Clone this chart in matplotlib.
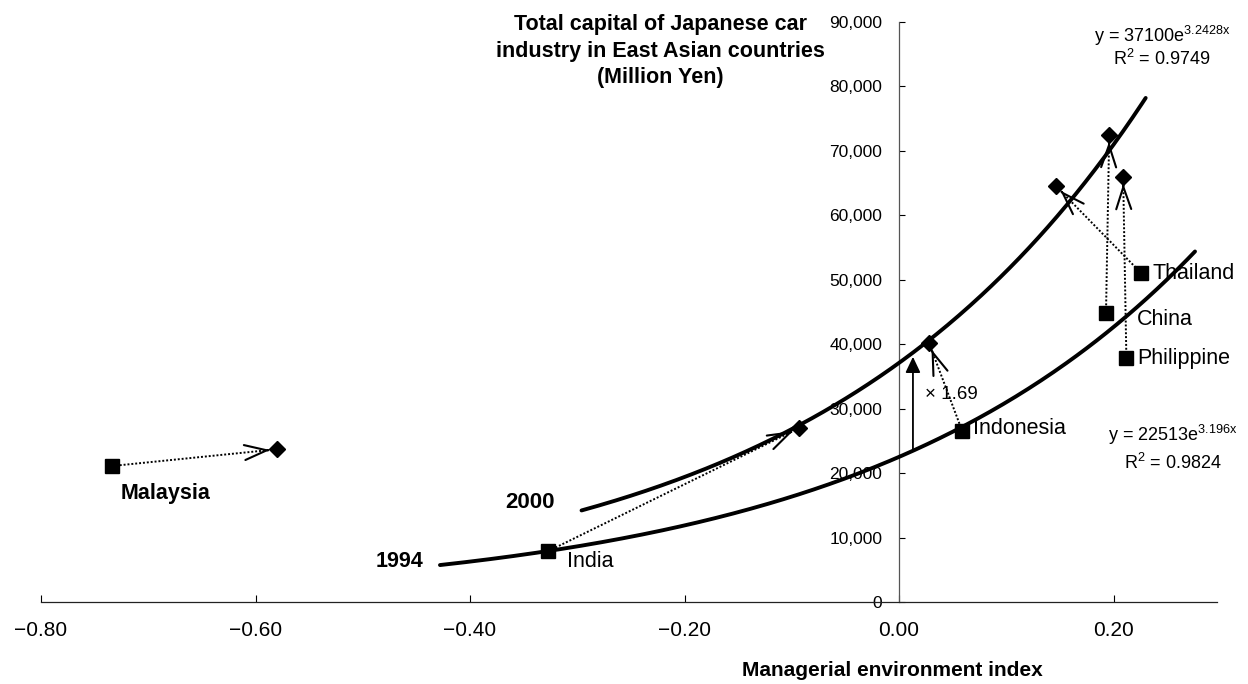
import numpy as np
import matplotlib
matplotlib.use("Agg")
import matplotlib.pyplot as plt

plt.rcParams['font.family'] = ['Liberation Sans', 'DejaVu Sans']
plt.rcParams['mathtext.fontset'] = 'custom'
plt.rcParams['mathtext.rm'] = 'Liberation Sans'
plt.rcParams['mathtext.it'] = 'Liberation Sans:italic'
plt.rcParams['mathtext.bf'] = 'Liberation Sans:bold'

# ---- data -------------------------------------------------------------
countries = ["Malaysia", "India", "Indonesia", "China", "Thailand", "Philippine"]
index_1994 = [-0.734, -0.327, 0.059, 0.193, 0.226, 0.212]
capital_1994 = [21100, 7900, 26500, 44800, 51000, 37900]
index_2000 = [-0.580, -0.093, 0.028, 0.196, 0.146, 0.209]
capital_2000 = [23700, 27000, 40200, 72500, 64600, 66000]

# exponential trend lines y = a * exp(b * x)
fit_1994 = (22513, 3.196)
fit_2000 = (37100, 3.2428)
r2_1994 = 0.9824
r2_2000 = 0.9749
span_1994 = (-0.428, 0.276)
span_2000 = (-0.296, 0.230)

ratio_x = 0.013
ratio_label = "\u00d7 1.69"

x_ticks = [-0.8, -0.6, -0.4, -0.2, 0.0, 0.2]
y_ticks = list(range(0, 90001, 10000))

title_text = "Total capital of Japanese car\nindustry in East Asian countries\n(Million Yen)"
xlabel_text = "Managerial environment index"

# label offsets (points) from each 1994 marker
label_offsets = {
    "Malaysia": (6.5, -24.0),
    "India": (13.5, -11.5),
    "Indonesia": (8.0, -2.2),
    "China": (22.3, -8.6),
    "Thailand": (8.0, -4.3),
    "Philippine": (8.0, -4.3),
}
bold_labels = {"Malaysia"}

# ---- figure -----------------------------------------------------------
W, H = 1248, 684
fig = plt.figure(figsize=(W / 100, H / 100), dpi=100)
ax = fig.add_axes([41 / W, 1 - 602 / H, 1176 / W, 580 / H])
ax.set_xlim(-0.8, 0.2965)
ax.set_ylim(0, 90000)

for s in ("top", "right"):
    ax.spines[s].set_visible(False)
ax.spines["left"].set_position(("data", 0))
ax.spines["left"].set_color("#555555")
ax.spines["left"].set_linewidth(0.9)
ax.spines["bottom"].set_color("#222222")
ax.spines["bottom"].set_linewidth(0.9)

ax.set_xticks(x_ticks, labels=[f"{v:.2f}".replace("-", "\u2212") for v in x_ticks])
ax.set_yticks(y_ticks, labels=[f"{v:,}" for v in y_ticks])
ax.tick_params(axis="x", direction="in", length=5, width=0.8, pad=14, labelsize=15)
ax.tick_params(axis="y", direction="in", length=4, width=0.8, pad=12, labelsize=12.5)


def trend(fit, x):
    a, b = fit
    return a * np.exp(b * np.asarray(x))


# trend curves
for fit, span in ((fit_1994, span_1994), (fit_2000, span_2000)):
    xs = np.linspace(span[0], span[1], 300)
    ax.plot(xs, trend(fit, xs), color="black", lw=2.8, solid_capstyle="round", zorder=3)

# markers
ax.plot(index_1994, capital_1994, "s", ms=10.5, color="black", zorder=5)
ax.plot(index_2000, capital_2000, "D", ms=8.5, color="black", zorder=5)

# dotted movement arrows 1994 -> 2000
to_disp = ax.transData.transform
to_data = ax.transData.inverted().transform
shrink_start, shrink_end = 8.0, 7.0  # pixels
for x0, y0, x1, y1 in zip(index_1994, capital_1994, index_2000, capital_2000):
    p0 = to_disp((x0, y0))
    p1 = to_disp((x1, y1))
    u = (p1 - p0) / np.hypot(*(p1 - p0))
    start = to_data(p0 + u * shrink_start)
    tip = to_data(p1 - u * shrink_end)
    back = to_data(p1 - u * (shrink_end + 2.0))
    ax.plot([start[0], tip[0]], [start[1], tip[1]], color="black", lw=1.4,
            linestyle=(0, (1, 1.0)), zorder=4)
    ax.annotate("", xy=tip, xytext=back,
                arrowprops=dict(arrowstyle="->,head_length=0.8,head_width=0.27",
                                mutation_scale=20, lw=1.5, color="black",
                                shrinkA=0, shrinkB=0), zorder=6)

# country labels
for name, x0, y0 in zip(countries, index_1994, capital_1994):
    dx, dy = label_offsets[name]
    ax.annotate(name, xy=(x0, y0), xytext=(dx, dy), textcoords="offset points",
                ha="left", va="baseline", fontsize=15.5,
                fontweight="bold" if name in bold_labels else "normal")

# year labels at the start of each curve
ax.annotate("1994", xy=(span_1994[0], trend(fit_1994, span_1994[0])),
            xytext=(-12, -1.5), textcoords="offset points",
            ha="right", va="baseline", fontsize=15.5, fontweight="bold")
ax.annotate("2000", xy=(span_2000[0], trend(fit_2000, span_2000[0])),
            xytext=(-19.5, 1.5), textcoords="offset points",
            ha="right", va="baseline", fontsize=16, fontweight="bold")

# ratio between the two trend curves
ax.annotate("", xy=(ratio_x, trend(fit_2000, ratio_x)),
            xytext=(ratio_x, trend(fit_1994, ratio_x)),
            arrowprops=dict(arrowstyle="-|>,head_length=0.95,head_width=0.45",
                            mutation_scale=10, lw=1.3, color="black",
                            shrinkA=0, shrinkB=3), zorder=4)
y_mid = 0.5 * (trend(fit_1994, ratio_x) + trend(fit_2000, ratio_x))
ax.annotate(ratio_label, xy=(ratio_x, y_mid), xytext=(8.6, 5),
            textcoords="offset points", ha="left", va="center", fontsize=13.5)

# trend-line equations
ax.text(0.245, 86900, f"y = {fit_2000[0]}e$^{{\\mathrm{{{fit_2000[1]}x}}}}$",
        ha="center", va="baseline", fontsize=13)
ax.text(0.245, 83300, f"R$^{{\\mathrm{{2}}}}$ = {r2_2000:.4f}",
        ha="center", va="baseline", fontsize=13)
ax.text(0.2555, 25000, f"y = {fit_1994[0]}e$^{{\\mathrm{{{fit_1994[1]}x}}}}$",
        ha="center", va="baseline", fontsize=13)
ax.text(0.2555, 20700, f"R$^{{\\mathrm{{2}}}}$ = {r2_1994:.4f}",
        ha="center", va="baseline", fontsize=13)

# axis titles
ax.text((660 - 41) / 1176, (602 - 51) / 580, title_text, transform=ax.transAxes,
        ha="center", va="center", multialignment="center", fontsize=15.5,
        fontweight="bold", linespacing=1.35)
ax.set_xlabel(xlabel_text, fontsize=15, fontweight="bold", va="center")
ax.xaxis.set_label_coords((892 - 41) / 1176, (602 - 671) / 580)

fig.savefig("out.png", dpi=100)
